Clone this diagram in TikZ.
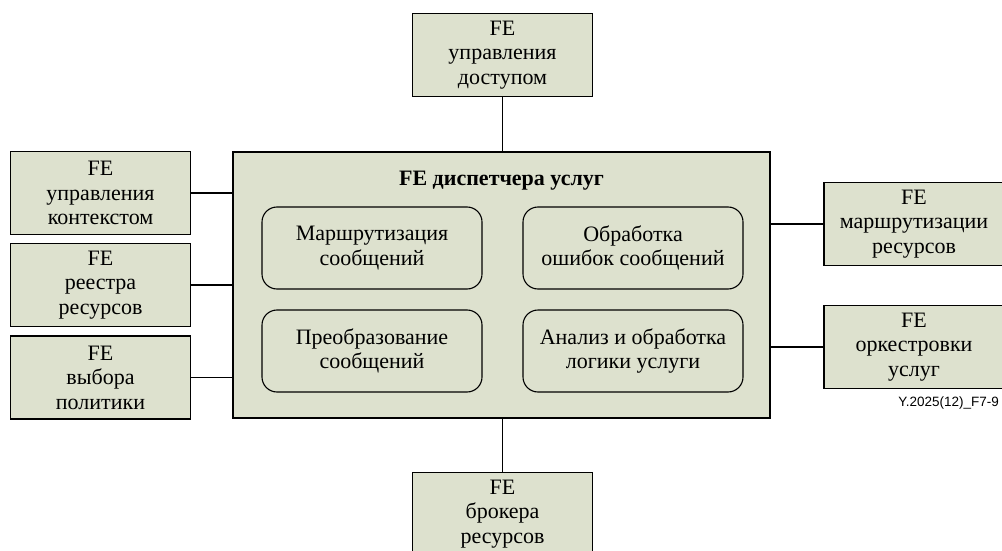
\documentclass[tikz,border=0pt]{standalone}
\usepackage{fontspec}
\setmainfont{Liberation Serif}
\newfontfamily\capfont{Liberation Sans}
\definecolor{fefill}{RGB}{221,225,206}
\begin{document}
\begin{tikzpicture}[x=1pt,y=-1pt,
  txt/.style={font=\fontsize{22}{24.5}\selectfont},
  febox/.style={txt, draw=black, fill=fefill, line width=1.2pt, minimum width=180pt,
    minimum height=83pt, align=center, inner sep=0pt},
  subbox/.style={txt, draw=black, line width=1.1pt, rounded corners=15pt, minimum width=220pt,
    minimum height=82pt, align=center, inner sep=0pt},
  link/.style={line width=1.1pt}]
\useasboundingbox (0,0) rectangle (1002,551);

% central dispatcher block
\node[draw=black, fill=fefill, line width=1.2pt, minimum width=537pt, minimum height=266pt,
  inner sep=0pt] (disp) at (501.5,285) {};
\node[font=\bfseries\fontsize{22}{24}\selectfont] (title) at (501.5,181) {FE диспетчера услуг};

\node[subbox] (route) at (372,248) {Маршрутизация\\сообщений};
\node[subbox] (err) at (633,248) {Обработка\\ошибок сообщений};
\node[subbox] (conv) at (372,351) {Преобразование\\сообщений};
\node[subbox] (logic) at (633,351) {Анализ и обработка\\логики услуги};

% surrounding functional entities
\node[febox] (acc) at (502.5,55) {FE\\управления\\доступом};
\node[febox] (ctx) at (100.5,193) {FE\\управления\\контекстом};
\node[febox] (reg) at (100.5,285) {FE\\реестра\\ресурсов};
\node[febox] (pol) at (100.5,377.5) {FE\\выбора\\политики};
\node[febox] (rrt) at (914,224) {FE\\маршрутизации\\ресурсов};
\node[febox] (orc) at (914,347) {FE\\оркестровки\\услуг};
\node[febox] (brk) at (502.5,514) {FE\\брокера\\ресурсов};

% connectors
\draw[link] (acc.south) -- (acc.south |- disp.north);
\draw[link] (brk.north) -- (brk.north |- disp.south);
\draw[link] (ctx.east) -- (ctx.east -| disp.west);
\draw[link] (reg.east) -- (reg.east -| disp.west);
\draw[link] (pol.east) -- (pol.east -| disp.west);
\draw[link] (rrt.west) -- (rrt.west -| disp.east);
\draw[link] (orc.west) -- (orc.west -| disp.east);

\node[font=\capfont\fontsize{13.5}{15}\selectfont, anchor=east, inner sep=0pt] (cap) at (999,403) {Y.2025(12)\_F7-9};
\end{tikzpicture}
\end{document}
